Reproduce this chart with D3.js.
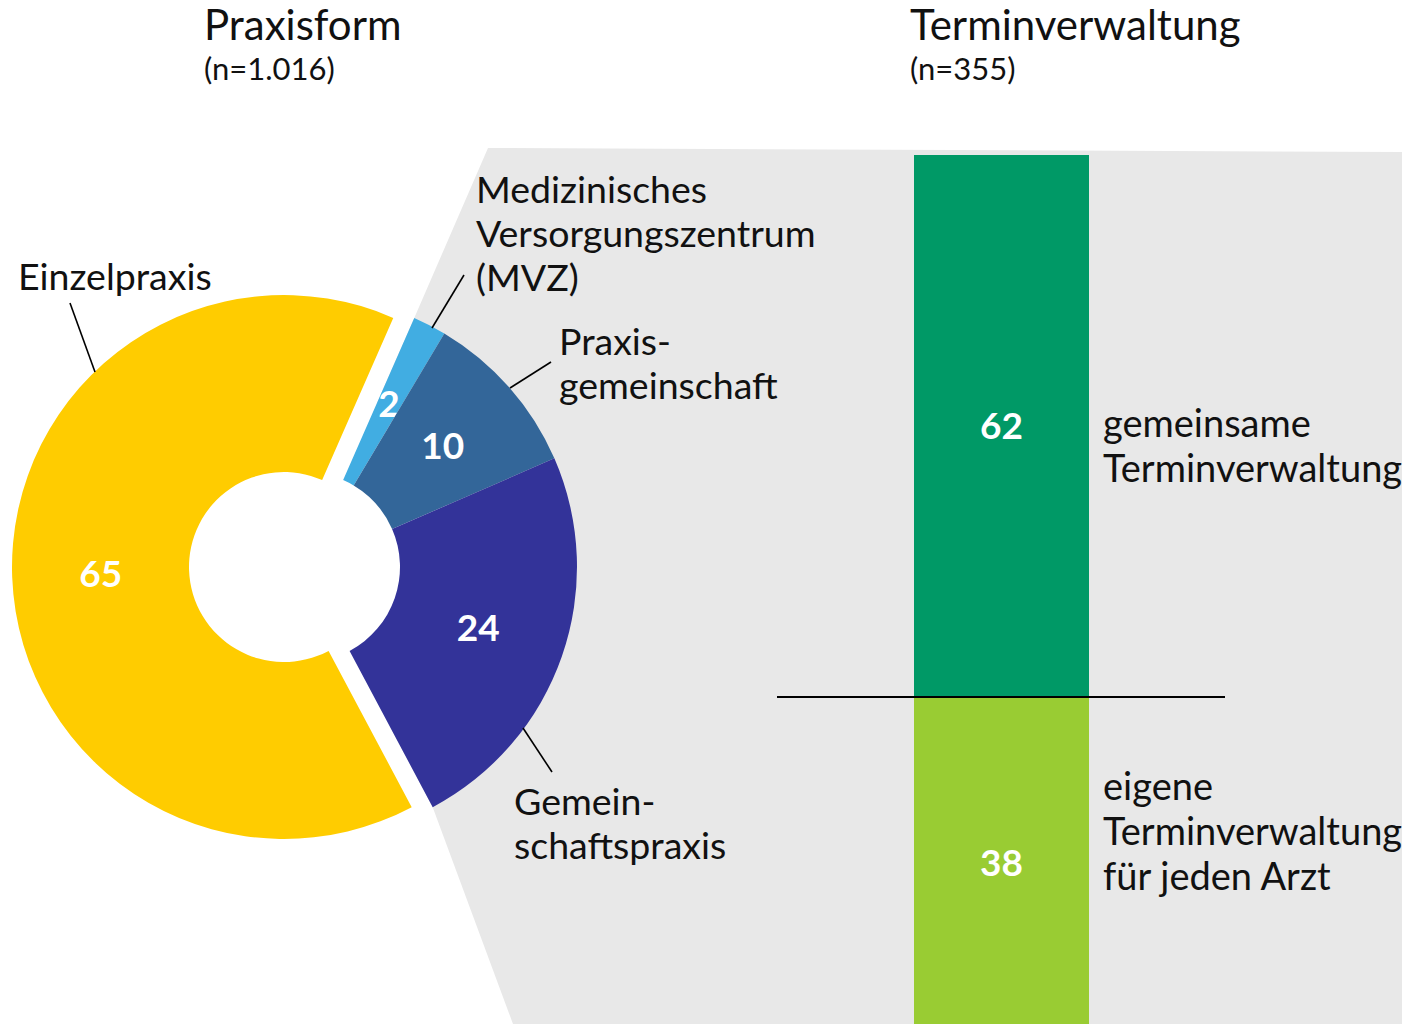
<!DOCTYPE html>
<html>
<head>
<meta charset="utf-8">
<script src="https://cdn.jsdelivr.net/npm/d3@7"></script>
<style>
  body { margin: 0; background: #fff; }
  svg { display: block; font-family: Lato, "Open Sans", sans-serif; }
</style>
</head>
<body>
<svg id="chart" width="1402" height="1024"></svg>
<script>
// Praxisform (n=1.016), Anteile in Prozent
var praxisCategories = ["Einzelpraxis", "Medizinisches Versorgungszentrum (MVZ)", "Praxisgemeinschaft", "Gemeinschaftspraxis"];
var praxisValues = [65, 2, 10, 24];
var praxisLabelLines = [
    ["Einzelpraxis"],
    ["Medizinisches", "Versorgungszentrum", "(MVZ)"],
    ["Praxis-", "gemeinschaft"],
    ["Gemein-", "schaftspraxis"]
];

// Terminverwaltung (n=355), Anteile in Prozent
var terminCategories = ["gemeinsame Terminverwaltung", "eigene Terminverwaltung für jeden Arzt"];
var terminValues = [62, 38];
var terminLabelLines = [
    ["gemeinsame", "Terminverwaltung"],
    ["eigene", "Terminverwaltung", "für jeden Arzt"]
];

var praxisColors = ["#ffcc00", "#41ade2", "#336699", "#333399"];
var terminColors = ["#009966", "#99cc33"];

var svg = d3.select('#chart');

var cx = 284, cy = 567,
    outerR = 272, innerR = 95,
    explode = 21;   // the non-Einzelpraxis slices are pushed out to the right

// gray band behind everything, running from the exploded slices to the bar
var start = 152 * Math.PI / 180;
var pie = d3.pie().sort(null).value(function(d) { return d; })
    .startAngle(start).endAngle(start + 2 * Math.PI);
var arcs = pie(praxisValues);
var arc = d3.arc().innerRadius(innerR).outerRadius(outerR);

var ex = cx + explode, ey = cy;
function pt(r, a) { return [ex + r * Math.sin(a), ey - r * Math.cos(a)]; }
var a1 = arcs[1].startAngle, a2 = arcs[3].endAngle;
var band = [
    [488, 148], [1402, 152], [1402, 1024], [513, 1024],
    pt(outerR, a2), pt(180, a2), pt(180, (a1 + a2) / 2), pt(180, a1), pt(outerR, a1)
];
svg.append('polygon')
    .attr('points', band.map(function(p) { return p.join(','); }).join(' '))
    .attr('fill', '#e8e8e8');

// titles
var titles = [
    { x: 204, t: "Praxisform", n: "(n=1.016)" },
    { x: 910, t: "Terminverwaltung", n: "(n=355)" }
];
titles.forEach(function(d) {
    svg.append('text').attr('x', d.x).attr('y', 40)
        .attr('font-size', 42).attr('fill', '#111').text(d.t);
    svg.append('text').attr('x', d.x).attr('y', 80)
        .attr('font-size', 31).attr('fill', '#111').text(d.n);
});

// donut
var g = svg.append('g');
var slices = g.selectAll('g.slice').data(arcs).enter().append('g')
    .attr('class', 'slice')
    .attr('transform', function(d, i) {
        return i === 0 ? 'translate(' + cx + ',' + cy + ')' : 'translate(' + ex + ',' + ey + ')';
    });

slices.append('path')
    .attr('d', arc)
    .attr('fill', function(d, i) { return praxisColors[i]; });

slices.append('text')
    .attr('transform', function(d) { return 'translate(' + arc.centroid(d) + ')'; })
    .attr('text-anchor', 'middle')
    .attr('dy', '0.36em')
    .attr('font-size', 37)
    .attr('font-weight', 'bold')
    .attr('fill', '#fff')
    .text(function(d) { return d.value; });

// pie labels with leader lines
var praxisLabelPos = [
    { x: 18, y: 290, line: [[70, 303], [95, 372]] },
    { x: 476, y: 203, line: [[464, 275], [432, 328]] },
    { x: 559, y: 355, line: [[551, 362], [510, 388]] },
    { x: 514, y: 815, line: [[552, 772], [523, 728]] }
];
var lineGap = 44;

praxisLabelLines.forEach(function(lines, i) {
    var p = praxisLabelPos[i];
    svg.append('line')
        .attr('x1', p.line[0][0]).attr('y1', p.line[0][1])
        .attr('x2', p.line[1][0]).attr('y2', p.line[1][1])
        .attr('stroke', '#000').attr('stroke-width', 1.6);
    var t = svg.append('text').attr('font-size', 37.5).attr('fill', '#111');
    lines.forEach(function(s, j) {
        t.append('tspan').attr('x', p.x).attr('y', p.y + j * lineGap).text(s);
    });
});

// stacked bar
var y = d3.scaleLinear().domain([0, 100]).range([155, 1029]);
var x = d3.scaleBand().domain(["Terminverwaltung"]).range([914, 1089]).padding(0);

var stack = d3.cumsum(terminValues);
var bars = svg.append('g').selectAll('rect').data(terminValues).enter();

bars.append('rect')
    .attr('x', x("Terminverwaltung"))
    .attr('width', x.bandwidth())
    .attr('y', function(d, i) { return y(stack[i] - d); })
    .attr('height', function(d) { return y(d) - y(0); })
    .attr('fill', function(d, i) { return terminColors[i]; });

bars.append('text')
    .attr('x', x("Terminverwaltung") + x.bandwidth() / 2)
    .attr('y', function(d, i) { return y(stack[i] - d / 2); })
    .attr('text-anchor', 'middle')
    .attr('dy', '0.36em')
    .attr('font-size', 37)
    .attr('font-weight', 'bold')
    .attr('fill', '#fff')
    .text(String);

// separator line at the split
svg.append('line')
    .attr('x1', 777).attr('x2', 1225)
    .attr('y1', y(stack[0])).attr('y2', y(stack[0]))
    .attr('stroke', '#000').attr('stroke-width', 2);

// bar labels
var terminLabelTop = [437, 800];
terminLabelLines.forEach(function(lines, i) {
    var t = svg.append('text').attr('font-size', 38).attr('fill', '#111');
    lines.forEach(function(s, j) {
        t.append('tspan').attr('x', 1103).attr('y', terminLabelTop[i] + j * 45).text(s);
    });
});
</script>
</body>
</html>
